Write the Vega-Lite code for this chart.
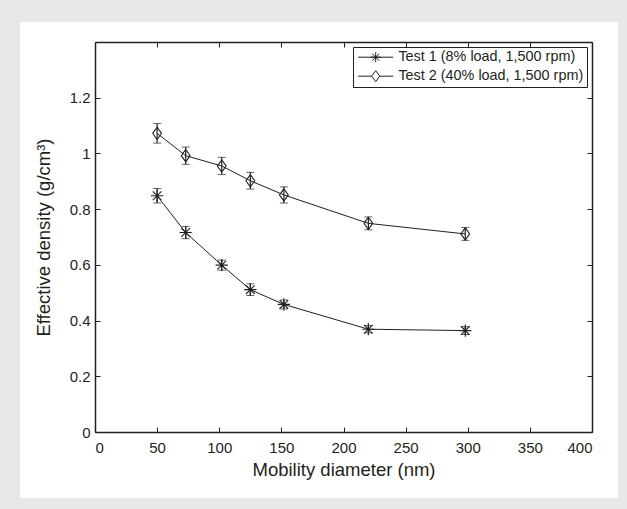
{
  "$schema": "https://vega.github.io/schema/vega-lite/v6.json",
  "autosize": {"type": "none"},
  "width": 497,
  "height": 390,
  "padding": {"left": 95, "top": 42, "right": 35, "bottom": 77},
  "background": "#e6e7e8",
  "config": {
    "font": "Liberation Sans",
    "view": {"stroke": null},
    "axis": {"grid": false, "domainColor": "#231f20", "domainWidth": 1.5, "tickColor": "#231f20", "tickWidth": 1, "labelColor": "#231f20", "titleColor": "#231f20", "labelFontSize": 15, "titleFontSize": 18.5, "titleFontWeight": "normal"}
  },
  "datasets": {
    "pts": [
      {"series": "Test 1 (8% load, 1,500 rpm)", "d": 50, "rho": 0.848, "err": 0.026},
      {"series": "Test 1 (8% load, 1,500 rpm)", "d": 73, "rho": 0.716, "err": 0.022},
      {"series": "Test 1 (8% load, 1,500 rpm)", "d": 102, "rho": 0.599, "err": 0.018},
      {"series": "Test 1 (8% load, 1,500 rpm)", "d": 125, "rho": 0.511, "err": 0.021},
      {"series": "Test 1 (8% load, 1,500 rpm)", "d": 152, "rho": 0.458, "err": 0.016},
      {"series": "Test 1 (8% load, 1,500 rpm)", "d": 220, "rho": 0.369, "err": 0.013},
      {"series": "Test 1 (8% load, 1,500 rpm)", "d": 298, "rho": 0.364, "err": 0.014},
      {"series": "Test 2 (40% load, 1,500 rpm)", "d": 50, "rho": 1.072, "err": 0.035},
      {"series": "Test 2 (40% load, 1,500 rpm)", "d": 73, "rho": 0.992, "err": 0.031},
      {"series": "Test 2 (40% load, 1,500 rpm)", "d": 102, "rho": 0.955, "err": 0.031},
      {"series": "Test 2 (40% load, 1,500 rpm)", "d": 125, "rho": 0.902, "err": 0.030},
      {"series": "Test 2 (40% load, 1,500 rpm)", "d": 152, "rho": 0.851, "err": 0.029},
      {"series": "Test 2 (40% load, 1,500 rpm)", "d": 220, "rho": 0.749, "err": 0.023},
      {"series": "Test 2 (40% load, 1,500 rpm)", "d": 298, "rho": 0.711, "err": 0.023}
    ]
  },
  "resolve": {"axis": {"x": "independent", "y": "independent"}, "scale": {"shape": "independent"}},
  "layer": [
    {
      "data": {"values": [{}]},
      "mark": {"type": "rect", "fill": "white", "stroke": null},
      "encoding": {
        "x": {"datum": -60.4, "type": "quantitative", "scale": {"domain": [0, 400]}, "axis": {"orient": "top", "zindex": 1, "labels": false, "title": null, "values": [0, 50, 100, 150, 200, 250, 300, 350, 400], "tickSize": -5}},
        "x2": {"datum": 420.9},
        "y": {"datum": 1.472, "type": "quantitative", "scale": {"domain": [0, 1.4]}, "axis": {"orient": "right", "zindex": 1, "labels": false, "title": null, "values": [0, 0.2, 0.4, 0.6, 0.8, 1, 1.2], "tickSize": -5}},
        "y2": {"datum": -0.237}
      }
    },
    {
      "data": {"name": "pts"},
      "mark": {"type": "line", "color": "#231f20", "strokeWidth": 1},
      "encoding": {
        "x": {"field": "d", "type": "quantitative", "scale": {"domain": [0, 400]}, "axis": {"orient": "bottom", "zindex": 1, "title": "Mobility diameter (nm)", "values": [0, 50, 100, 150, 200, 250, 300, 350, 400], "tickSize": -5, "labelPadding": 13, "titlePadding": 5}},
        "y": {"field": "rho", "type": "quantitative", "scale": {"domain": [0, 1.4]}, "axis": {"orient": "left", "zindex": 1, "title": "Effective density (g/cm³)", "values": [0, 0.2, 0.4, 0.6, 0.8, 1, 1.2], "format": "~g", "tickSize": -5, "labelPadding": 10, "titlePadding": 16}},
        "detail": {"field": "series"}
      }
    },
    {
      "data": {"name": "pts"},
      "mark": {"type": "errorbar", "ticks": {"size": 8, "color": "#231f20", "strokeWidth": 1.2}, "rule": {"color": "#231f20", "strokeWidth": 1.2}},
      "encoding": {
        "x": {"field": "d", "type": "quantitative", "scale": {"domain": [0, 400]}, "axis": null},
        "y": {"field": "rho", "type": "quantitative", "scale": {"domain": [0, 1.4]}, "axis": null},
        "yError": {"field": "err"},
        "detail": {"field": "series"}
      }
    },
    {
      "data": {"name": "pts"},
      "mark": {"type": "point", "filled": false, "stroke": "#231f20", "strokeWidth": 1.1, "opacity": 1},
      "encoding": {
        "x": {"field": "d", "type": "quantitative", "scale": {"domain": [0, 400]}, "axis": null},
        "y": {"field": "rho", "type": "quantitative", "scale": {"domain": [0, 1.4]}, "axis": null},
        "shape": {
          "field": "series", "type": "nominal", "legend": null,
          "scale": {"domain": ["Test 1 (8% load, 1,500 rpm)", "Test 2 (40% load, 1,500 rpm)"], "range": ["M-1,0L1,0M0,-1L0,1M-0.71,-0.71L0.71,0.71M-0.71,0.71L0.71,-0.71", "M0,-1L0.72,0L0,1L-0.72,0Z"]}
        },
        "size": {"value": 150}
      }
    },
    {
      "data": {"values": []},
      "mark": {"type": "point", "filled": false, "stroke": "#231f20", "strokeWidth": 1, "opacity": 1},
      "encoding": {
        "shape": {
          "field": "series", "type": "nominal",
          "scale": {"domain": ["Test 1 (8% load, 1,500 rpm)", "Test 2 (40% load, 1,500 rpm)"], "range": ["M-1,0L6,0M1.5,0L3.5,0M2.5,-1L2.5,1M1.8,-0.7L3.2,0.7M1.8,0.7L3.2,-0.7", "M-1,0L1.7,0M3.3,0L6,0M2.5,-1.1L3.3,0L2.5,1.1L1.7,0Z"]},
          "legend": {
            "title": null, "orient": "top-right", "offset": 5, "padding": 3,
            "strokeColor": "#231f20", "fillColor": "white", "zindex": 3,
            "labelFontSize": 14.4, "labelColor": "#231f20", "labelOffset": 28, "labelLimit": 400, "rowPadding": 3,
            "symbolSize": 100, "symbolStrokeColor": "#231f20", "symbolStrokeWidth": 1, "symbolFillColor": "transparent", "symbolOpacity": 1,
            "encode": {"legend": {"update": {"strokeWidth": {"value": 1.5}}}}
          }
        },
        "size": {"value": 100}
      }
    }
  ]
}
